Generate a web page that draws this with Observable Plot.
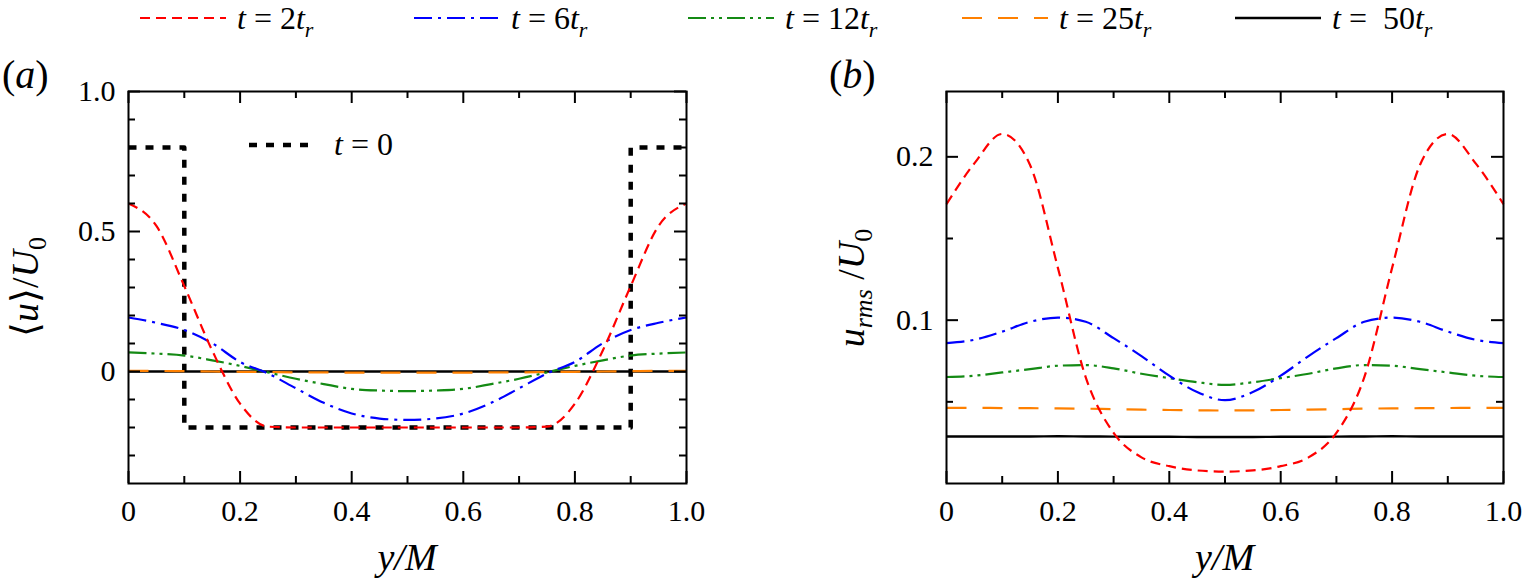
<!DOCTYPE html>
<html>
<head>
<meta charset="utf-8">
<script src="https://cdn.jsdelivr.net/npm/d3@7"></script>
<script src="https://cdn.jsdelivr.net/npm/@observablehq/plot@0.6"></script>
<style>
  body { margin: 0; background: #fff; }
  #wrap { position: relative; width: 1524px; height: 582px; overflow: hidden; background: #fff; }
  .panel { position: absolute; top: 0; }
</style>
</head>
<body>
<div id="wrap"></div>
<script>
// ---------------- data ----------------
const xGrid = [0, 0.05, 0.1, 0.15, 0.2, 0.25, 0.3, 0.35, 0.4, 0.45, 0.5,
               0.55, 0.6, 0.65, 0.7, 0.75, 0.8, 0.85, 0.9, 0.95, 1.0];

// legend labels (t = N t_r)
const timeLabels = ["2", "6", "12", "25", " 50"];

// panel (a): <u>/U0
const uMean_t2  = [0.600, 0.520, 0.305, 0.075, -0.115, -0.197, -0.200, -0.200, -0.200, -0.200, -0.200,
                   -0.200, -0.200, -0.200, -0.200, -0.197, -0.115, 0.075, 0.305, 0.520, 0.600];
const uMean_t6  = [0.193, 0.174, 0.148, 0.101, 0.034, -0.007, -0.060, -0.112, -0.150, -0.168, -0.173,
                   -0.168, -0.150, -0.112, -0.060, -0.007, 0.034, 0.101, 0.148, 0.174, 0.193];
const uMean_t12 = [0.068, 0.064, 0.057, 0.040, 0.020, -0.003, -0.026, -0.045, -0.062, -0.068, -0.070,
                   -0.068, -0.062, -0.045, -0.026, -0.003, 0.020, 0.040, 0.057, 0.064, 0.068];
const uMean_t25 = [0.002, 0.002, 0.001, 0.000, -0.001, -0.002, -0.003, -0.003, -0.004, -0.004, -0.004,
                   -0.004, -0.004, -0.003, -0.003, -0.002, -0.001, 0.000, 0.001, 0.002, 0.002];
const uMean_t50 = [0, 0, 0, 0, 0, 0, 0, 0, 0, 0, 0, 0, 0, 0, 0, 0, 0, 0, 0, 0, 0];

// initial step profile t = 0
const stepX = [0, 0.1, 0.1, 0.9, 0.9, 1.0];
const stepU = [0.8, 0.8, -0.2, -0.2, 0.8, 0.8];

// panel (b): u_rms/U0
const uRms_t2  = [0.171, 0.196, 0.214, 0.195, 0.132, 0.065, 0.031, 0.016, 0.0106, 0.008, 0.0073,
                  0.008, 0.0106, 0.016, 0.031, 0.065, 0.132, 0.195, 0.214, 0.196, 0.171];
const uRms_t6  = [0.086, 0.088, 0.093, 0.099, 0.1016, 0.099, 0.089, 0.078, 0.066, 0.056, 0.051,
                  0.056, 0.066, 0.078, 0.089, 0.099, 0.1016, 0.099, 0.093, 0.088, 0.086];
const uRms_t12 = [0.0652, 0.066, 0.068, 0.070, 0.0721, 0.0725, 0.0705, 0.0672, 0.0645, 0.062, 0.0604,
                  0.062, 0.0645, 0.0672, 0.0705, 0.0725, 0.0721, 0.070, 0.068, 0.066, 0.0652];
const uRms_t25 = [0.0463, 0.0463, 0.0462, 0.0461, 0.0460, 0.0458, 0.0455, 0.0452, 0.0450, 0.0448, 0.0447,
                  0.0448, 0.0450, 0.0452, 0.0455, 0.0458, 0.0460, 0.0461, 0.0462, 0.0463, 0.0463];
const uRms_t50 = [0.0288, 0.0288, 0.0288, 0.0288, 0.0289, 0.0288, 0.0287, 0.0286, 0.0286, 0.0285, 0.0285,
                  0.0285, 0.0286, 0.0286, 0.0287, 0.0288, 0.0289, 0.0288, 0.0288, 0.0288, 0.0288];

// ticks
const xMajorTicks = [0, 0.2, 0.4, 0.6, 0.8, 1.0];
const xMinorTicks = [0.1, 0.3, 0.5, 0.7, 0.9];
const yaMajorTicks = [0, 0.5, 1.0];
const yaMinorTicks = [-0.3, -0.2, -0.1, 0.1, 0.2, 0.3, 0.4, 0.6, 0.7, 0.8, 0.9];
const ybMajorTicks = [0.1, 0.2];
const ybMinorTicks = [0.05, 0.15];

// ---------------- styles ----------------
const styles = [
  {color: "#ff0000", dash: "10,6",           width: 2.2},
  {color: "#0000ff", dash: "18,6,3,6",       width: 2.2},
  {color: "#148a14", dash: "18,5,3,5,3,5",   width: 2.2},
  {color: "#ff8000", dash: "20,16",          width: 2.2},
  {color: "#000000", dash: null,             width: 2.4}
];

const rows = vals => xGrid.map((x, i) => ({x, v: vals[i]}));
const fmt = d => d === 0 ? "0" : d.toFixed(1);

const W = 762, H = 582, MT = 91, MB = 99;
const FH = H - MT - MB;

function panel({ml, mr, yDomain, series, yMajor, yMinor, extra}) {
  const FW = W - ml - mr;
  const lineMarks = [];
  // draw from t=50 up to t=2 so red is on top
  for (let i = series.length - 1; i >= 0; i--) {
    const s = styles[i];
    const o = {x: "x", y: "v", stroke: s.color, strokeWidth: s.width, curve: "monotone-x", strokeLinecap: "butt"};
    if (s.dash) o.strokeDasharray = s.dash;
    lineMarks.push(Plot.line(rows(series[i]), o));
  }
  return Plot.plot({
    width: W, height: H,
    marginLeft: ml, marginRight: mr, marginTop: MT, marginBottom: MB,
    x: {domain: [0, 1]},
    y: {domain: yDomain},
    style: {background: "transparent", fontFamily: "'Liberation Serif', 'Times New Roman', serif", fontSize: "30px", color: "#000", overflow: "visible"},
    marks: [
      Plot.axisX({ticks: xMajorTicks, tickSize: 0, tickPadding: 16, tickFormat: fmt, label: null, fontSize: 30}),
      Plot.axisY({ticks: yMajor, tickSize: 0, tickPadding: 13, tickFormat: fmt, label: null, fontSize: 30}),
      ...(extra || []),
      ...lineMarks,
      // inward ticks, all four sides
      Plot.tickX(xMajorTicks, {x: d => d, insetTop: FH - 12, stroke: "#000", strokeWidth: 2}),
      Plot.tickX(xMinorTicks, {x: d => d, insetTop: FH - 7, stroke: "#000", strokeWidth: 2}),
      Plot.tickX(xMajorTicks, {x: d => d, insetBottom: FH - 12, stroke: "#000", strokeWidth: 2}),
      Plot.tickX(xMinorTicks, {x: d => d, insetBottom: FH - 7, stroke: "#000", strokeWidth: 2}),
      Plot.tickY(yMajor, {y: d => d, insetRight: FW - 12, stroke: "#000", strokeWidth: 2}),
      Plot.tickY(yMinor, {y: d => d, insetRight: FW - 7, stroke: "#000", strokeWidth: 2}),
      Plot.tickY(yMajor, {y: d => d, insetLeft: FW - 12, stroke: "#000", strokeWidth: 2}),
      Plot.tickY(yMinor, {y: d => d, insetLeft: FW - 7, stroke: "#000", strokeWidth: 2}),
      Plot.frame({stroke: "#000", strokeWidth: 2})
    ]
  });
}

const stepRows = stepX.map((x, i) => ({x, v: stepU[i]}));

const plotA = panel({
  ml: 128, mr: 76, yDomain: [-0.4, 1.0],
  series: [uMean_t2, uMean_t6, uMean_t12, uMean_t25, uMean_t50],
  yMajor: yaMajorTicks, yMinor: yaMinorTicks,
  extra: [Plot.line(stepRows, {x: "x", y: "v", stroke: "#000", strokeWidth: 4.5, strokeDasharray: "8,9", strokeLinecap: "butt", curve: "linear"})]
});
const plotB = panel({
  ml: 184, mr: 21, yDomain: [0, 0.24],
  series: [uRms_t2, uRms_t6, uRms_t12, uRms_t25, uRms_t50],
  yMajor: ybMajorTicks, yMinor: ybMinorTicks
});

const wrap = document.getElementById("wrap");
const da = document.createElement("div"); da.className = "panel"; da.style.left = "0px"; da.appendChild(plotA);
const db = document.createElement("div"); db.className = "panel"; db.style.left = "762px"; db.appendChild(plotB);
wrap.appendChild(da); wrap.appendChild(db);

// ---------------- overlay: legend, labels, titles ----------------
const legendX = [140, 414, 688, 962, 1235];
let svg = `<svg xmlns="http://www.w3.org/2000/svg" width="1524" height="582" style="position:absolute;left:0;top:0;font-family:'Liberation Serif','Times New Roman',serif;white-space:pre;">`;
timeLabels.forEach((lab, i) => {
  const s = styles[i], x0 = legendX[i];
  svg += `<line x1="${x0}" x2="${x0 + 86}" y1="18" y2="18" stroke="${s.color}" stroke-width="${s.width}" ${s.dash ? `stroke-dasharray="${s.dash}"` : ""}/>`;
  svg += `<text x="${x0 + 97}" y="29" font-size="32" style="white-space:pre"><tspan font-style="italic">t</tspan> = ${lab}<tspan font-style="italic">t</tspan><tspan font-style="italic" font-size="22" dy="8">r</tspan></text>`;
});
// panel labels
svg += `<text x="2" y="88" font-size="40">(<tspan font-style="italic">a</tspan>)</text>`;
svg += `<text x="829" y="88" font-size="40">(<tspan font-style="italic">b</tspan>)</text>`;
// inner legend t = 0
svg += `<line x1="249" x2="316" y1="145" y2="145" stroke="#000" stroke-width="4.5" stroke-dasharray="8,9"/>`;
svg += `<text x="334" y="155" font-size="32"><tspan font-style="italic">t</tspan> = 0</text>`;
// x titles
svg += `<text x="407" y="570" font-size="38" text-anchor="middle" font-style="italic">y/M</text>`;
svg += `<text x="1224.5" y="570" font-size="38" text-anchor="middle" font-style="italic">y/M</text>`;
// y titles
svg += `<text transform="translate(38,287) rotate(-90)" text-anchor="middle" font-size="38">⟨<tspan font-style="italic">u</tspan>⟩/<tspan font-style="italic">U</tspan><tspan font-size="26" dy="8">0</tspan></text>`;
svg += `<text transform="translate(864,288) rotate(-90)" text-anchor="middle" font-size="38" style="white-space:pre"><tspan font-style="italic">u</tspan><tspan font-style="italic" font-size="26" dy="8">rms</tspan><tspan dy="-8"> /</tspan><tspan font-style="italic">U</tspan><tspan font-size="26" dy="8">0</tspan></text>`;
svg += `</svg>`;
const ov = document.createElement("div");
ov.innerHTML = svg;
ov.style.position = "absolute"; ov.style.left = "0"; ov.style.top = "0"; ov.style.pointerEvents = "none";
wrap.appendChild(ov);
</script>
</body>
</html>
